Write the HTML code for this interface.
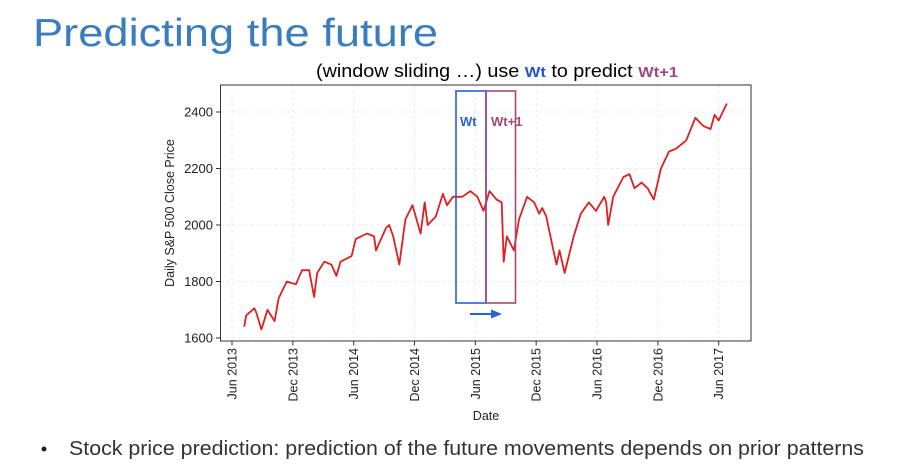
<!DOCTYPE html>
<html><head><meta charset="utf-8">
<style>
html,body{margin:0;padding:0;background:#fff;}
svg{display:block;font-family:"Liberation Sans",sans-serif;}
</style></head>
<body>
<svg id="chart" width="914" height="469" viewBox="0 0 914 469" xmlns="http://www.w3.org/2000/svg">
  <text x="33" y="46" font-size="39" fill="#3a7cc0" textLength="405" lengthAdjust="spacingAndGlyphs">Predicting the future</text>
  <text x="316" y="77" font-size="18" fill="#000" textLength="362" lengthAdjust="spacingAndGlyphs">(window sliding …) use <tspan fill="#2255cc" font-weight="bold" font-size="15">Wt</tspan> to predict <tspan fill="#a04a7a" font-weight="bold" font-size="15">Wt+1</tspan></text>
  <g id="grid"></g>
  <g id="series"></g>
  <rect x="220.5" y="85" width="530.5" height="256" fill="none" stroke="#333" stroke-width="1"/>
  <g id="yaxis"></g>
  <g id="xaxis"></g>
  <text transform="translate(174,213) rotate(-90)" font-size="12.5" text-anchor="middle" fill="#222">Daily S&amp;P 500 Close Price</text>
  <text x="486" y="420" font-size="12.5" text-anchor="middle" fill="#222">Date</text>
  <rect x="456" y="91" width="30" height="212" fill="none" stroke="#2a5fd6" stroke-width="1.6"/>
  <rect x="486" y="91" width="29.5" height="212" fill="none" stroke="#a04a7a" stroke-width="1.6"/>
  <text x="460" y="126" font-size="13" font-weight="bold" fill="#2a5fd6">Wt</text>
  <text x="491" y="126" font-size="13" font-weight="bold" fill="#a04a7a">Wt+1</text>
  <g>
    <line x1="470" y1="314" x2="492" y2="314" stroke="#2a5fd6" stroke-width="2"/>
    <polygon points="491,309.5 502,314 491,318.5" fill="#2a5fd6"/>
  </g>
  <circle cx="44" cy="449" r="2.5" fill="#222"/>
  <text x="69" y="455" font-size="20" fill="#333" textLength="795" lengthAdjust="spacingAndGlyphs">Stock price prediction: prediction of the future movements depends on prior patterns</text>
</svg>
<script>
const months = [1.2,1.4,2.2,2.4,2.9,3.5,4.2,4.6,5.4,6.3,6.9,7.6,8.1,8.4,9.1,9.8,10.3,10.7,11.8,12.2,13.3,14.0,14.2,15.2,15.5,15.9,16.5,17.1,17.8,18.6,19.0,19.3,20.1,20.8,21.2,21.8,22.7,23.5,24.2,24.8,25.4,26.1,26.6,26.8,27.1,27.8,28.3,29.1,29.8,30.3,30.6,31.0,31.4,32.0,32.3,32.8,33.7,34.4,35.2,35.9,36.7,36.9,37.1,37.6,38.6,39.2,39.7,40.4,41.0,41.6,42.3,43.1,43.8,44.8,45.7,46.5,47.2,47.6,48.0,48.8];
const prices = [1640,1680,1705,1690,1630,1700,1660,1740,1800,1790,1840,1840,1745,1830,1870,1860,1820,1870,1890,1950,1970,1960,1910,1990,2000,1960,1860,2020,2070,1970,2080,2000,2030,2110,2070,2100,2100,2120,2100,2050,2120,2090,2080,1870,1960,1910,2020,2100,2080,2040,2060,2030,1960,1860,1910,1830,1960,2040,2080,2050,2100,2080,2000,2100,2170,2180,2130,2150,2130,2090,2200,2260,2270,2300,2380,2350,2340,2390,2370,2430,2440];
const yTicks = [1600,1800,2000,2200,2400];
const xTickMonths = [0,6,12,18,24,30,36,42,48];
const xTickLabels = ["Jun 2013","Dec 2013","Jun 2014","Dec 2014","Jun 2015","Dec 2015","Jun 2016","Dec 2016","Jun 2017"];
const NS="http://www.w3.org/2000/svg";
function xs(m){return 232+m*(486.7/48);}
function ys(v){return 338-(v-1600)*(226/800);}
function mk(tag,attrs,parent){const e=document.createElementNS(NS,tag);for(const k in attrs)e.setAttribute(k,attrs[k]);parent.appendChild(e);return e;}
const grid=document.getElementById('grid'),ya=document.getElementById('yaxis'),xa=document.getElementById('xaxis'),ser=document.getElementById('series');
yTicks.forEach(v=>{
  const y=ys(v);
  const g=mk('line',{x1:220.5,x2:751,y1:y,y2:y,stroke:'#e4e4e4','stroke-dasharray':'3,3','stroke-width':0.8},grid);
  
  
  const t=mk('line',{x1:216,x2:220.5,y1:y,y2:y,stroke:'#333'},ya);
  
  
  const l=mk('text',{x:213,y:y+4.5,'font-size':13,'text-anchor':'end',fill:'#222'},ya);
  l.textContent=v;
  
  
});
xTickMonths.forEach((m,i)=>{
  const x=xs(m);
  const g=mk('line',{x1:x,x2:x,y1:85,y2:341,stroke:'#e4e4e4','stroke-dasharray':'3,3','stroke-width':0.8},grid);
  
  
  const t=mk('line',{x1:x,x2:x,y1:341,y2:345.5,stroke:'#333'},xa);
  
  
  const l=mk('text',{transform:`translate(${x+4.5},348) rotate(-90)`,'font-size':12.5,'text-anchor':'end',fill:'#222'},xa);
  l.textContent=xTickLabels[i];
  
  
});
const d=months.map((m,i)=>(i?'L':'M')+xs(m).toFixed(1)+','+ys(prices[i]).toFixed(1)).join(' ');
const p=mk('path',{d:d,fill:'none',stroke:'#e02020','stroke-width':1.8,'stroke-linejoin':'round'},ser);


</script>
</body></html>
